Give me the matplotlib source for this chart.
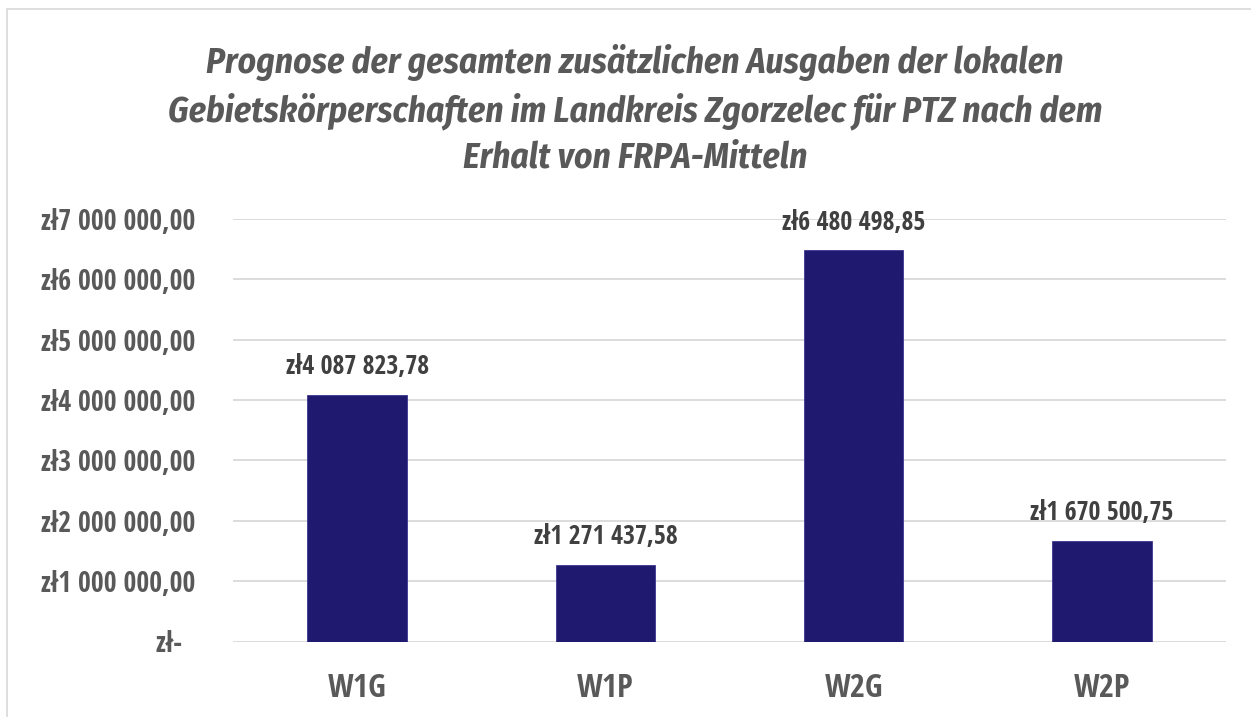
import matplotlib
matplotlib.use("Agg")
import matplotlib.pyplot as plt
from matplotlib.patches import Rectangle
from matplotlib.ticker import FixedLocator, FuncFormatter

categories = ["W1G", "W1P", "W2G", "W2P"]
values = [4087823.78, 1271437.58, 6480498.85, 1670500.75]
y_ticks = [0, 1000000, 2000000, 3000000, 4000000, 5000000, 6000000, 7000000]
title = ("Prognose der gesamten zusätzlichen Ausgaben der lokalen\n"
         "Gebietskörperschaften im Landkreis Zgorzelec für PTZ nach dem\n"
         "Erhalt von FRPA-Mitteln")

BAR = "#1f1a70"
GRID = "#d9d9d9"
TICK = "#595959"
LABEL = "#404040"
COND = "Open Sans Condensed"


def pln(v):
    # accounting-style złoty format; zero shown as a dash with trailing padding
    if v == 0:
        return "zł-  "
    whole, frac = f"{v:,.2f}".split(".")
    return "zł" + whole.replace(",", " ") + "," + frac


fig = plt.figure(figsize=(12.51, 7.17), dpi=100)
W, H = 1251, 717

# chart area outline
fig.patches.append(Rectangle((7 / W, -0.05), 1.2, 1 - 9 / H + 0.05, transform=fig.transFigure,
                             fill=False, edgecolor="#d9d9d9", linewidth=1.2))

ax = fig.add_axes([233 / W, 1 - 641.5 / H, (1226 - 233) / W, (641.5 - 219) / H])
x = list(range(len(categories)))
bars = ax.bar(x, values, width=0.4, color=BAR, edgecolor="#3c3890", linewidth=0.6, zorder=3)

ax.set_xlim(-0.5, len(categories) - 0.5)
ax.set_ylim(0, 7000000)
ax.yaxis.set_major_locator(FixedLocator(y_ticks))
ax.yaxis.set_major_formatter(FuncFormatter(lambda v, p: pln(v)))
ax.set_xticks(x)
ax.set_xticklabels(categories)
ax.grid(axis="y", color=GRID, linewidth=1.3, zorder=0)
for s in ax.spines.values():
    s.set_visible(False)
ax.tick_params(axis="both", length=0)
ax.tick_params(axis="y", pad=27)
ax.tick_params(axis="x", pad=22)
for t in ax.get_yticklabels():
    t.set_fontfamily(COND)
    t.set_fontweight("bold")
    t.set_fontsize(20)
    t.set_color(TICK)
for t in ax.get_xticklabels():
    t.set_fontfamily(COND)
    t.set_fontweight("bold")
    t.set_fontsize(23.5)
    t.set_color(TICK)

for b, v in zip(bars, values):
    ax.annotate(pln(v), (b.get_x() + b.get_width() / 2, v), xytext=(0, 10.5),
                textcoords="offset points", ha="center", va="bottom",
                fontfamily=COND, fontweight="bold", fontsize=18.6, color=LABEL)

fig.text(635 / W, 1 - 44 / H, title, ha="center", va="top", fontfamily="Fira Sans Condensed",
         fontweight="bold", fontstyle="italic", fontsize=25.5, color=TICK, linespacing=1.38)

fig.savefig("out.png", dpi=100, facecolor="white")
